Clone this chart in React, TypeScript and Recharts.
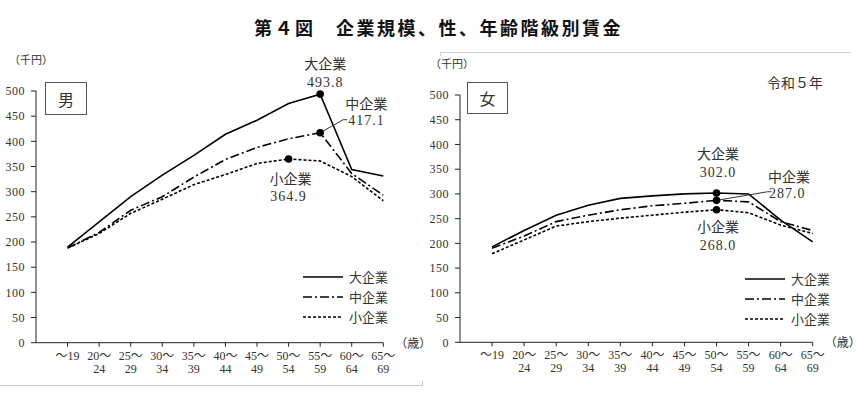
import React from "react";
import { LineChart, Line, XAxis, YAxis, Label } from "recharts";

// 年齢階級（2段表示）
const AGE_TOP = ["～19", "20～", "25～", "30～", "35～", "40～", "45～", "50～", "55～", "60～", "65～"];
const AGE_BOTTOM = ["", "24", "29", "34", "39", "44", "49", "54", "59", "64", "69"];
const SIZES = ["大企業", "中企業", "小企業"];
const Y_TICKS = [0, 50, 100, 150, 200, 250, 300, 350, 400, 450, 500];

// 男（千円）
const MALE_LARGE = [190, 240, 290, 333, 372, 414, 442, 475, 493.8, 344, 331];
const MALE_MEDIUM = [188, 219, 263, 290, 329, 364, 388, 405, 417.1, 336, 293];
const MALE_SMALL = [188, 217, 257, 285, 314, 334, 356, 364.9, 361, 330, 282];

// 女（千円）
const FEMALE_LARGE = [193, 226, 257, 277, 291, 296, 300, 302.0, 300, 247, 203];
const FEMALE_MEDIUM = [190, 215, 244, 257, 268, 276, 281, 287.0, 284, 244, 226];
const FEMALE_SMALL = [179, 207, 235, 244, 251, 257, 263, 268.0, 262, 237, 220];

const JP = "'Noto Sans CJK JP', sans-serif";
const NUM = "'Liberation Serif', 'Noto Sans CJK JP', serif";
const INK = "#222";
const TEXT = "#333";

const DASH = { large: undefined, medium: "9 3 2 3", small: "3 2" } as const;

function buildRows(large: number[], medium: number[], small: number[]) {
  return AGE_TOP.map((t, i) => ({
    age: t + AGE_BOTTOM[i],
    large: large[i],
    medium: medium[i],
    small: small[i],
  }));
}

interface Note {
  index: number;
  name: string;
  nameDx: number;
  nameDy: number;
  valDx: number;
  valDy: number;
  anchor: "middle" | "start";
  leader?: [number, number];
}

function makeDot(values: number[], note: Note) {
  return (p: any) => {
    const { cx, cy, index } = p;
    if (index !== note.index || cx == null) return <g key={`d${index}`} />;
    return (
      <g key={`d${index}`}>
        {note.leader && (
          <polyline
            points={`${cx},${cy} ${cx + note.leader[0]},${cy + note.leader[1]} ${cx + note.leader[0] + 4},${cy + note.leader[1]}`}
            fill="none"
            stroke={TEXT}
            strokeWidth={1}
          />
        )}
        <circle cx={cx} cy={cy} r={3.8} fill="#000" />
        <text
          x={cx + note.nameDx}
          y={cy + note.nameDy}
          textAnchor={note.anchor}
          fontFamily={JP}
          fontSize={14}
          fill={TEXT}
        >
          {note.name}
        </text>
        <text
          x={cx + note.valDx}
          y={cy + note.valDy}
          textAnchor={note.anchor}
          fontFamily={NUM}
          fontSize={14}
          letterSpacing={1}
          fill={TEXT}
        >
          {values[index].toFixed(1)}
        </text>
      </g>
    );
  };
}

function AgeTick(props: any) {
  const { x, y, index } = props;
  return (
    <g transform={`translate(${x},${y})`}>
      <text textAnchor="middle" fontFamily={NUM} fontSize={12} fill={TEXT}>
        <tspan x={0} dy={11}>{AGE_TOP[index]}</tspan>
        <tspan x={0} dy={13}>{AGE_BOTTOM[index] || " "}</tspan>
      </text>
    </g>
  );
}

function LegendBox({ left, top }: { left: number; top: number }) {
  const dashes = [DASH.large, DASH.medium, DASH.small];
  return (
    <svg
      width={90}
      height={60}
      style={{ position: "absolute", left, top, overflow: "visible" }}
    >
      {SIZES.map((s, i) => (
        <g key={s} transform={`translate(0,${10 + i * 20})`}>
          <line x1={0} x2={40} y1={0} y2={0} stroke="#000" strokeWidth={1.6} strokeDasharray={dashes[i]} />
          <text x={46} y={5} fontFamily={JP} fontSize={13} fill={TEXT}>
            {s}
          </text>
        </g>
      ))}
    </svg>
  );
}

interface PanelProps {
  left: number;
  width: number;
  top: number;
  right: number;
  axisW: number;
  axisH: number;
  plotW: number;
  unitDx: number;
  rows: ReturnType<typeof buildRows>;
  notes: Note[];
  series: number[][];
}

function Panel({ left, width, top, right, axisW, axisH, plotW, unitDx, rows, notes, series }: PanelProps) {
  const keys = ["large", "medium", "small"] as const;
  return (
    <LineChart
      width={width}
      height={394}
      data={rows}
      margin={{ top, right, bottom: 0, left: 0 }}
      style={{ position: "absolute", left, top: 0, overflow: "visible" }}
    >
      <XAxis
        dataKey="age"
        interval={0}
        height={axisH}
        padding={{ left: plotW / 11, right: 0 }}
        axisLine={{ stroke: INK }}
        tickLine={{ stroke: INK }}
        tickSize={4}
        tickMargin={2}
        tick={<AgeTick />}
      >
        <Label
          content={(p: any) => (
            <text
              x={p.viewBox.x + p.viewBox.width + 12}
              y={p.viewBox.y + 5}
              fontFamily={JP}
              fontSize={12}
              fill={TEXT}
            >
              （歳）
            </text>
          )}
        />
      </XAxis>
      <YAxis
        width={axisW}
        domain={[0, 500]}
        ticks={Y_TICKS}
        interval={0}
        axisLine={{ stroke: INK }}
        tickLine={{ stroke: INK }}
        tickSize={5}
        tickMargin={6}
        tick={{ fontFamily: NUM, fontSize: 12, fill: TEXT, letterSpacing: 0.5 }}
      >
        <Label
          content={(p: any) => (
            <text x={p.viewBox.x + unitDx} y={p.viewBox.y - 27} fontFamily={JP} fontSize={11} fill={TEXT}>
              （千円）
            </text>
          )}
        />
      </YAxis>
      {keys.map((k, i) => (
        <Line
          key={k}
          dataKey={k}
          name={SIZES[i]}
          stroke="#000"
          strokeWidth={1.6}
          strokeDasharray={DASH[k]}
          dot={makeDot(series[i], notes[i])}
          activeDot={false}
          isAnimationActive={false}
        />
      ))}
    </LineChart>
  );
}

const boxStyle: React.CSSProperties = {
  position: "absolute",
  border: "1px solid #555",
  boxSizing: "border-box",
  display: "flex",
  alignItems: "center",
  justifyContent: "center",
  fontFamily: JP,
  fontSize: 16,
  color: TEXT,
  background: "#fff",
};

export default function App() {
  const maleRows = buildRows(MALE_LARGE, MALE_MEDIUM, MALE_SMALL);
  const femaleRows = buildRows(FEMALE_LARGE, FEMALE_MEDIUM, FEMALE_SMALL);

  const maleNotes: Note[] = [
    { index: 8, name: "大企業", nameDx: 5, nameDy: -25, valDx: 5, valDy: -7, anchor: "middle" },
    { index: 8, name: "中企業", nameDx: 25, nameDy: -24, valDx: 28, valDy: -8, anchor: "start", leader: [23, -13] },
    { index: 7, name: "小企業", nameDx: 2, nameDy: 25, valDx: 0, valDy: 42, anchor: "middle" },
  ];
  const femaleNotes: Note[] = [
    { index: 7, name: "大企業", nameDx: 1.5, nameDy: -34, valDx: 1.5, valDy: -16, anchor: "middle" },
    { index: 7, name: "中企業", nameDx: 51.5, nameDy: -18, valDx: 52.5, valDy: -2.5, anchor: "start", leader: [51, -8.6] },
    { index: 7, name: "小企業", nameDx: 1.5, nameDy: 22, valDx: 1.5, valDy: 40, anchor: "middle" },
  ];

  return (
    <div
      style={{
        position: "absolute",
        left: 0,
        top: 0,
        width: 865,
        height: 394,
        background: "#fff",
        overflow: "hidden",
        fontFamily: JP,
      }}
    >
      <div
        style={{
          position: "absolute",
          left: 6,
          width: 865,
          top: 15,
          textAlign: "center",
          fontFamily: JP,
          fontSize: 18,
          fontWeight: 700,
          letterSpacing: 2.5,
          color: "#111",
          lineHeight: "24px",
        }}
      >
        第４図　企業規模、性、年齢階級別賃金
      </div>

      {/* panel frames */}
      <div style={{ position: "absolute", left: 0, top: 385, width: 422, height: 1, background: "#c8c8c8" }} />
      <div style={{ position: "absolute", left: 422, top: 381, width: 1, height: 5, background: "#c8c8c8" }} />
      <div style={{ position: "absolute", left: 440, top: 52, width: 410, height: 1, background: "#d0d0d0" }} />
      <div style={{ position: "absolute", left: 440, top: 52, width: 1, height: 4, background: "#d0d0d0" }} />

      <Panel
        left={0}
        width={430}
        top={91}
        right={46.7}
        axisW={36}
        axisH={51.3}
        plotW={347.3}
        unitDx={9}
        rows={maleRows}
        notes={maleNotes}
        series={[MALE_LARGE, MALE_MEDIUM, MALE_SMALL]}
      />
      <Panel
        left={430}
        width={435}
        top={95}
        right={52.3}
        axisW={30}
        axisH={51.7}
        plotW={352.7}
        unitDx={0}
        rows={femaleRows}
        notes={femaleNotes}
        series={[FEMALE_LARGE, FEMALE_MEDIUM, FEMALE_SMALL]}
      />

      <div style={{ ...boxStyle, left: 45, top: 82, width: 42, height: 33 }}>男</div>
      <div style={{ ...boxStyle, left: 467, top: 82, width: 41, height: 32 }}>女</div>
      <div
        style={{
          position: "absolute",
          left: 767,
          top: 73,
          fontFamily: JP,
          fontSize: 14,
          color: TEXT,
          lineHeight: "18px",
        }}
      >
        令和５年
      </div>

      <LegendBox left={303} top={267} />
      <LegendBox left={745} top={269} />
    </div>
  );
}
